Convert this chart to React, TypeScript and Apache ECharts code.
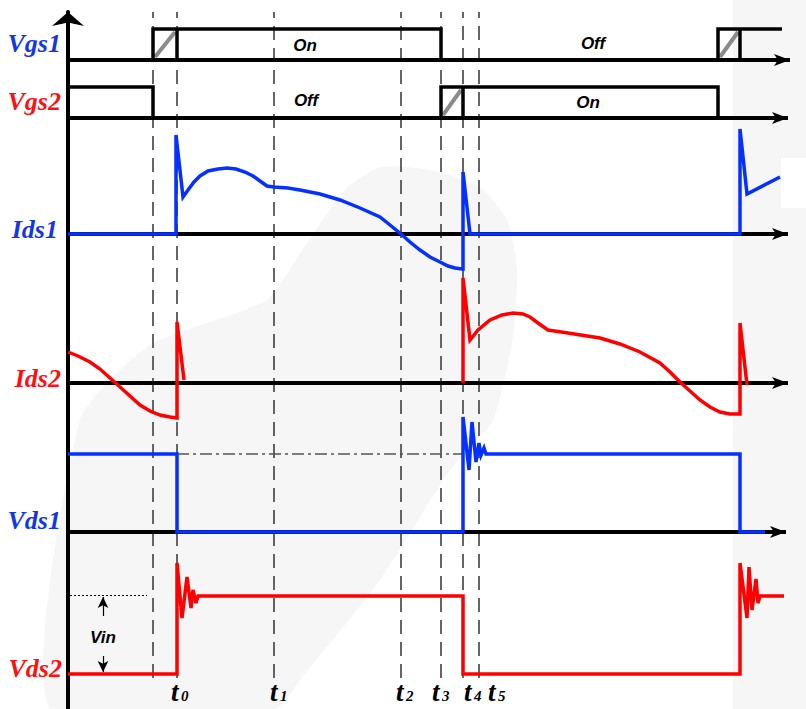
import React, { useEffect, useRef } from "react";
import * as echarts from "echarts";

// ---------- data (time units along x, amplitude units along y) ----------
const T_MAX = 722;
const Y_MIN = -35;
const Y_MAX = 662;

const timeMarks = [85, 109, 206, 333, 373, 395, 411];
const timeSubs = ["", "0", "1", "2", "3", "4", "5"];

const channelNames = ["Vgs1", "Vgs2", "Ids1", "Ids2", "Vds1", "Vds2"];
const channelBase = [614, 556, 440, 291, 142, 0];
const channelEnd = [722, 720, 720, 720, 718, 724];

const vgs1Segments = [
  [[85, 0], [85, 31], [373, 31], [373, 0]],
  [[109, 0], [109, 31]],
  [[650, 0], [650, 31], [714, 31]],
  [[672, 0], [672, 31]],
];
const vgs1Hatch = [
  [[87, 3], [107, 28]],
  [[652, 3], [670, 28]],
];
const vgs2Segments = [
  [[2, 31], [85, 31], [85, 0]],
  [[373, 0], [373, 31], [650, 31], [650, 0]],
  [[395, 0], [395, 31]],
];
const vgs2Hatch = [[[375, 3], [393, 28]]];

const ids1Segments = [
  [
    [0, 0], [108, 0], [108, 99], [115, 37], [120, 44], [126, 52], [132, 58], [140, 63],
    [150, 65], [159, 66], [168, 65], [177, 62], [185, 58], [192, 53], [199, 48],
    [206, 47], [220, 46], [232, 44], [252, 40], [272, 34], [292, 26], [312, 17],
    [322, 9], [333, 0], [342, -8], [352, -16], [362, -23], [372, -28], [380, -32],
    [387, -34], [394, -35], [395, -35], [395, 62], [402, 0], [672, 0], [672, 105],
    [679, 40], [712, 57],
  ],
];
const ids2Segments = [
  [
    [0, 31], [10, 27], [22, 21], [32, 14], [42, 5], [52, -4], [62, -13], [72, -22],
    [82, -28], [92, -32], [102, -34], [109, -35], [109, 61], [116, 3],
  ],
  [
    [395, 0], [395, 105], [402, 43], [410, 53], [422, 63], [434, 68], [445, 70],
    [455, 69], [462, 66], [470, 60], [480, 53], [500, 50], [532, 45], [552, 39],
    [572, 31], [592, 20], [602, 11], [612, 1], [622, -8], [632, -17], [642, -24],
    [652, -29], [662, -31], [672, -31], [672, 60], [679, -2],
  ],
];
const ids2Tick = [[672, 0], [672, -32]];

const vds1Segments = [
  [
    [0, 78], [109, 78], [109, 0], [395, 0], [395, 115], [401, 62], [404, 110],
    [408, 70], [411, 89], [413, 77], [416, 84], [418, 78], [672, 78], [672, 0], [697, 0],
  ],
];
const vds2Segments = [
  [
    [0, 0], [109, 0], [109, 111], [114, 56], [119, 97], [123, 66], [125, 84],
    [128, 71], [130, 78], [395, 78], [395, 0], [672, 0], [672, 111], [679, 56],
    [681, 107], [684, 64], [688, 95], [690, 71], [692, 78], [716, 78],
  ],
];

const dashDot = [[109, 78], [395, 78]]; // on Vds1
const vinLevel = [[2, 79], [79, 79]]; // on Vds2
const vinArrowUp = [[35, 58], [35, 77]];
const vinArrowDown = [[35, 18], [35, 2]];

const stateTexts = ["On", "Off", "Off", "On"];
const stateChannel = [0, 1, 0, 1];
const statePos = [[237, 15], [238, 18], [525, 17], [520, 16]];

// ---------- styles ----------
const BLUE = "#0530ff";
const RED = "#ff0000";
const LABEL_BLUE = "#1437e6";
const LABEL_RED = "#ff1010";
const channelLineColor = ["#000", "#000", BLUE, RED, BLUE, RED];
const channelLabelColor = [LABEL_BLUE, LABEL_RED, LABEL_BLUE, LABEL_RED, LABEL_BLUE, LABEL_RED];
const labelDy = [17, 17, 5, 5, 12, 6];
const labelDx = [-7, -7, -10, -7, -7, -6];
const timeLabelDx = [0, -6, -4, -5, -9, 1, 9];
const SERIF = '"Liberation Serif", "Times New Roman", serif';
const SANS = '"Liberation Sans", Arial, sans-serif';

const shift = (seg: number[][], base: number) => seg.map(([t, v]) => [t, v + base]);

function segSeries(segs: number[][][], base: number, color: string, width: number, z: number, opacity = 1) {
  return segs.map((seg) => ({
    type: "line",
    data: shift(seg, base),
    showSymbol: false,
    symbol: "none",
    silent: true,
    clip: false,
    z,
    lineStyle: { color, width, join: "miter", opacity },
  }));
}

function markSeries(lines: any[], z: number) {
  return {
    type: "line",
    data: [[0, Y_MIN - 100]],
    showSymbol: false,
    symbol: "none",
    silent: true,
    z,
    lineStyle: { opacity: 0 },
    markLine: {
      silent: true,
      animation: false,
      label: { show: false },
      emphasis: { disabled: true },
      data: lines,
    },
  };
}

export default function App() {
  const ref = useRef<HTMLDivElement>(null);

  useEffect(() => {
    if (!ref.current) return;
    const chart = echarts.init(ref.current, null, { renderer: "svg" });

    const series: any[] = [];

    // dashed time markers
    series.push(
      markSeries(
        timeMarks.map((t) => [
          { coord: [t, -4], symbol: "none", lineStyle: { color: "#333", width: 1.5, type: [14, 8] } },
          { coord: [t, Y_MAX], symbol: "none" },
        ]),
        1
      )
    );

    // dash-dot, Vin annotation
    series.push(
      markSeries(
        [
          [
            { coord: shift(dashDot, channelBase[4])[0], symbol: "none", lineStyle: { color: "#555", width: 1.5, type: [12, 4, 3, 4] } },
            { coord: shift(dashDot, channelBase[4])[1], symbol: "none" },
          ],
          [
            { coord: vinLevel[0], symbol: "none", lineStyle: { color: "#000", width: 1, type: [2, 2] } },
            { coord: vinLevel[1], symbol: "none" },
          ],
          [
            { coord: vinArrowUp[0], symbol: "none", lineStyle: { color: "#000", width: 1.2, type: "solid" } },
            { coord: vinArrowUp[1], symbol: "arrow", symbolSize: [8, 11] },
          ],
          [
            { coord: vinArrowDown[0], symbol: "none", lineStyle: { color: "#000", width: 1.2, type: "solid" } },
            { coord: vinArrowDown[1], symbol: "arrow", symbolSize: [8, 11] },
          ],
        ],
        3
      )
    );

    // baselines with arrows
    series.push(
      markSeries(
        channelBase.map((b, i) => [
          { coord: [0, b], symbol: "none", lineStyle: { color: "#000", width: 4, type: "solid" } },
          { coord: [channelEnd[i], b], symbol: "arrow", symbolSize: [9, 16] },
        ]),
        4
      )
    );

    // waveforms
    series.push(...segSeries(vgs1Hatch, channelBase[0], "#777", 4, 5, 0.85));
    series.push(...segSeries(vgs2Hatch, channelBase[1], "#777", 4, 5, 0.85));
    series.push(...segSeries(vgs1Segments, channelBase[0], channelLineColor[0], 3.5, 6));
    series.push(...segSeries(vgs2Segments, channelBase[1], channelLineColor[1], 3.5, 6));
    series.push(...segSeries(ids1Segments, channelBase[2], channelLineColor[2], 3.5, 6));
    series.push(...segSeries(ids2Segments, channelBase[3], channelLineColor[3], 3.5, 6));
    series.push(...segSeries([ids2Tick], channelBase[3], "#000", 2, 5));
    series.push(...segSeries(vds1Segments, channelBase[4], channelLineColor[4], 3.5, 6));
    series.push(...segSeries(vds2Segments, channelBase[5], channelLineColor[5], 3.5, 6));

    chart.setOption({
      animation: false,
      backgroundColor: "#ffffff",
      grid: { left: 68, right: 16, top: 12, bottom: 0, containLabel: false },
      xAxis: {
        type: "value",
        min: 0,
        max: T_MAX,
        show: true,
        axisLine: { show: false },
        axisTick: { show: false },
        axisLabel: { show: false },
        splitLine: { show: false },
      },
      yAxis: {
        type: "value",
        min: Y_MIN,
        max: Y_MAX,
        axisLine: {
          show: true,
          symbol: ["none", "arrow"],
          symbolSize: [24, 14],
          lineStyle: { color: "#000", width: 4 },
        },
        axisTick: { show: false },
        axisLabel: { show: false },
        splitLine: { show: false },
      },
      series,
    });

    const px = (t: number, v: number) => chart.convertToPixel({ gridIndex: 0 }, [t, v]) as number[];

    const graphics: any[] = [];
    // faint background swoosh
    graphics.push({
      type: "polygon",
      z: -10,
      silent: true,
      shape: {
        points: [
          [50, 709], [80, 420], [150, 345], [267, 300], [300, 253], [345, 190], [380, 167],
          [430, 170], [480, 187], [507, 220], [517, 270], [513, 337], [493, 420],
          [450, 470], [380, 580], [300, 680], [275, 709],
        ],
        smooth: 0.2,
      },
      style: { fill: "#f6f6f6" },
    });
    graphics.push({
      type: "rect",
      z: -10,
      silent: true,
      shape: { x: 733, y: 0, width: 73, height: 709 },
      style: { fill: "#f6f6f6" },
    });
    graphics.push({
      type: "rect",
      z: -9,
      silent: true,
      shape: { x: 781, y: 158, width: 25, height: 50 },
      style: { fill: "#ffffff" },
    });

    channelNames.forEach((name, i) => {
      const [x, y] = px(0, channelBase[i] + labelDy[i]);
      graphics.push({
        type: "text",
        z: 100,
        x: x + labelDx[i],
        y,
        style: {
          text: name,
          fill: channelLabelColor[i],
          font: `italic bold 26px ${SERIF}`,
          textAlign: "right",
          textVerticalAlign: "middle",
        },
      });
    });

    timeMarks.forEach((t, i) => {
      if (!timeSubs[i]) return;
      const [x, y] = px(t, -26);
      graphics.push({
        type: "text",
        z: 100,
        x: x + timeLabelDx[i],
        y: y - 8,
        style: { text: "t", fill: "#000", font: `italic bold 27px ${SERIF}`, textAlign: "left", textVerticalAlign: "middle" },
      });
      graphics.push({
        type: "text",
        z: 100,
        x: x + timeLabelDx[i] + 10,
        y: y - 4,
        style: { text: timeSubs[i], fill: "#000", font: `italic bold 15px ${SERIF}`, textAlign: "left", textVerticalAlign: "middle" },
      });
    });

    stateTexts.forEach((s, i) => {
      const [x, y] = px(statePos[i][0], channelBase[stateChannel[i]] + statePos[i][1]);
      graphics.push({
        type: "text",
        z: 100,
        x,
        y,
        style: { text: s, fill: "#000", font: `italic bold 17px ${SANS}`, textAlign: "center", textVerticalAlign: "middle" },
      });
    });

    {
      const [x, y] = px(35, 37);
      graphics.push({
        type: "text",
        z: 100,
        x,
        y,
        style: { text: "Vin", fill: "#000", font: `italic bold 17px ${SANS}`, textAlign: "center", textVerticalAlign: "middle" },
      });
    }

    chart.setOption({ graphic: graphics });

    return () => chart.dispose();
  }, []);

  return (
    <div
      ref={ref}
      style={{ position: "fixed", left: 0, top: 0, width: 806, height: 709 }}
    />
  );
}
